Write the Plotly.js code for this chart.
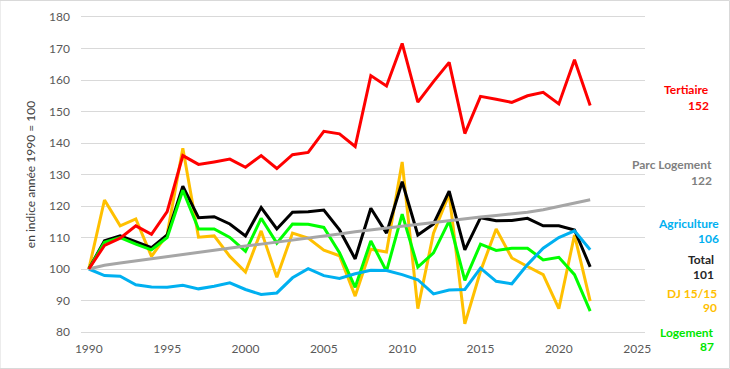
<!DOCTYPE html>
<html>
<head>
<meta charset="utf-8">
<script src="https://cdn.plot.ly/plotly-3.0.1.min.js"></script>
<style>html,body{margin:0;padding:0;background:#fff;}#chart{width:730px;height:369px;}</style>
</head>
<body>
<div id="chart"></div>
<script>
var years = [1990,1991,1992,1993,1994,1995,1996,1997,1998,1999,2000,2001,2002,2003,2004,2005,2006,2007,2008,2009,2010,2011,2012,2013,2014,2015,2016,2017,2018,2019,2020,2021,2022];

var tertiaire = [100,107.5,109.8,113.7,111,118.2,136,133.2,134,134.9,132.3,136,131.9,136.3,137,143.7,142.9,138.9,161.4,158.1,171.6,153.0,159.5,165.6,143.0,154.8,153.9,152.9,155.0,156.1,152.4,166.4,151.9];
var parcLogement = [100,101.2,101.9,102.6,103.2,103.9,104.6,105.3,106.0,106.6,107.3,107.9,108.5,109.2,109.8,110.4,111.1,111.8,112.4,113.1,113.7,114.3,114.9,115.5,116.0,116.5,117.0,117.5,118.0,118.8,119.8,120.8,122.0];
var agriculture = [100,97.9,97.7,95.0,94.3,94.2,94.8,93.7,94.5,95.6,93.5,91.9,92.4,97.2,100.1,97.9,97.0,98.5,99.6,99.5,98.2,96.6,92.1,93.3,93.5,100.3,96.1,95.3,101.4,106.6,110.0,112.1,106.1];
var total = [100,109.0,110.5,108.7,106.8,110.8,126.3,116.3,116.6,114.3,110.5,119.5,112.7,118.0,118.2,118.7,112.4,103.2,119.3,111.4,127.7,110.8,114.3,124.7,106.1,116.3,115.3,115.4,116.1,113.7,113.7,112.4,100.7];
var dj = [100,121.9,113.7,115.9,104.0,111.0,138.3,110.1,110.5,104.0,99.0,112.1,97.4,111.4,109.8,106.0,104.2,91.4,106.3,105.4,134.0,87.4,111.4,123.8,82.6,99.3,112.7,103.5,100.8,98.2,87.4,110.8,89.8];
var logement = [100,108.5,110.0,107.9,106.1,110.0,125.0,112.7,112.7,110.0,105.6,116.1,108.2,114.3,114.2,113.2,105.2,94.2,108.9,99.3,117.4,100.6,105.1,115.3,96.4,107.9,105.9,106.6,106.6,102.9,103.7,98.2,86.6];

var seriesNames = ["DJ 15/15","Total","Logement","Agriculture","Parc Logement","Tertiaire"];
var seriesData = [dj,total,logement,agriculture,parcLogement,tertiaire];
var lineColors = ["#FFC000","#000000","#00FF00","#00B0F0","#A6A6A6","#FF0000"];
var textColors = {"Tertiaire":"#FF0000","Parc Logement":"#7F7F7F","Agriculture":"#00B0F0","Total":"#262626","DJ 15/15":"#FFC000","Logement":"#00E600"};
// label positions (paper coords)
var labelPos = {
  "Tertiaire":[1.117,0.7683,0.7206],
  "Parc Logement":[1.1223,0.5302,0.4825],
  "Agriculture":[1.1348,0.346,0.2984],
  "Total":[1.1259,0.2286,0.181],
  "DJ 15/15":[1.1312,0.1238,0.0762],
  "Logement":[1.1259,0.0,-0.0476]
};

var traces = seriesNames.map(function(n,i){
  return {x:years,y:seriesData[i],type:'scatter',mode:'lines',name:n,
    line:{color:lineColors[i],width:3},hoverinfo:'x+y+name'};
});

var ann = [];
seriesNames.forEach(function(n,i){
  var p = labelPos[n];
  var last = seriesData[i][seriesData[i].length-1];
  ann.push({xref:'paper',yref:'paper',x:p[0],y:p[1],xanchor:'right',yanchor:'middle',showarrow:false,
    text:'<b>'+n+'</b>',font:{family:'Lato, sans-serif',size:12,color:textColors[n]}});
  ann.push({xref:'paper',yref:'paper',x:p[0],y:p[2],xanchor:'right',yanchor:'middle',showarrow:false,
    text:'<b>'+Math.round(last)+'</b>',font:{family:'Lato, sans-serif',size:12,color:textColors[n]}});
});
ann.push({xref:'paper',yref:'paper',x:-0.0904,y:0.498,xanchor:'center',yanchor:'middle',showarrow:false,
  textangle:-90,text:'en indice année 1990 = 100',font:{family:'Lato, sans-serif',size:12,color:'#404040'}});

var layout = {
  width:730,height:369,
  margin:{l:81,r:85,t:17,b:37,pad:0},
  paper_bgcolor:'#fff',plot_bgcolor:'#fff',
  showlegend:false,
  font:{family:'Lato, sans-serif',size:12,color:'#595959'},
  xaxis:{range:[1989.5,2025.5],tick0:1990,dtick:5,showgrid:false,zeroline:false,
    showline:true,mirror:true,linecolor:'#D9D9D9',linewidth:1,ticks:'',
    tickfont:{family:'Lato, sans-serif',size:12,color:'#595959'},ticklabelstandoff:6,fixedrange:true},
  yaxis:{range:[80,180],dtick:10,tick0:80,showgrid:true,gridcolor:'#D9D9D9',gridwidth:1,zeroline:false,
    showline:false,ticks:'',tickfont:{family:'Lato, sans-serif',size:12,color:'#595959'},ticklabelstandoff:10,fixedrange:true},
  annotations:ann,
  shapes:[{type:'rect',xref:'paper',yref:'paper',x0:-81/564,x1:1+84.5/564,y0:-36.5/315,y1:1+16.5/315,
    line:{color:'#D9D9D9',width:1},fillcolor:'rgba(0,0,0,0)',layer:'below'}]
};
Plotly.newPlot('chart',traces,layout,{displayModeBar:false,staticPlot:true});
</script>
</body>
</html>
